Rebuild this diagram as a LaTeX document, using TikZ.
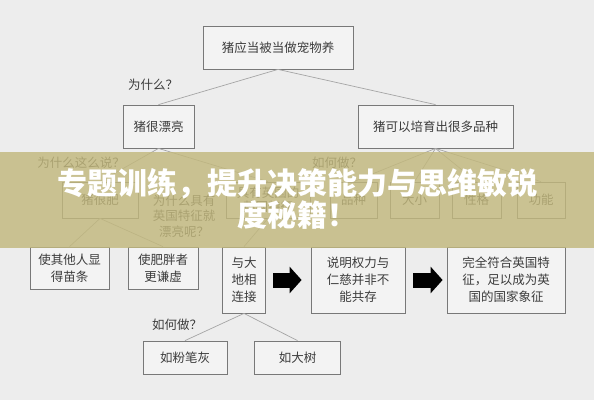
\documentclass[tikz,border=0pt]{standalone}
\usepackage{fontspec}
\newfontfamily\cjk{Noto Sans CJK SC}
\usetikzlibrary{arrows.meta, positioning}

\definecolor{bggray}{RGB}{237,237,237}
\definecolor{boxfill}{RGB}{243,243,243}
\definecolor{boxline}{RGB}{120,120,120}
\definecolor{edgegray}{RGB}{165,165,165}
\definecolor{txtgray}{RGB}{60,60,60}
\definecolor{bandolive}{RGB}{194,184,125}

\begin{document}
\begin{tikzpicture}[x=1pt, y=-1pt,
    every node/.style={font=\cjk\fontsize{12.5}{17}\selectfont, text=txtgray},
    box/.style={draw=boxline, fill=boxfill, line width=0.8pt, inner sep=0pt, align=center},
    qlab/.style={inner sep=1pt, align=center},
    edge/.style={draw=edgegray, line width=0.7pt},
    bigarrow/.style={-{Triangle[length=12pt, width=26pt]}, line width=15pt, black},
]

% ===== BACKGROUND =====
\fill[bggray] (0,0) rectangle (594,400);

% ===== TOP LEVELS =====
\node[box, minimum width=150, minimum height=43] (root) at (278,47.5) {猪应当被当做宠物养};
\node[box, minimum width=71, minimum height=43] (L-beauty) at (158.5,126.5) {猪很漂亮};
\node[box, minimum width=155, minimum height=43] (R-breed) at (435.5,126.5) {猪可以培育出很多品种};
\node[qlab] (q-why) at (153,85) {为什么？};

\draw[edge] (root.south) -- (L-beauty.north);
\draw[edge] (root.south) -- (R-breed.north);

% ===== SECOND LEVEL (under the band) =====
\node[qlab] (q-say) at (81,163) {为什么这么说？};
\node[box, minimum width=76, minimum height=36] (L-fat) at (100,200) {猪很肥};
\node[qlab, font=\cjk\fontsize{12.5}{15.5}\selectfont] (q-brit) at (184,216) {为什么具有\\英国特征就\\漂亮呢？};
\node[box, minimum width=84, minimum height=36, font=\cjk\fontsize{12.5}{14}\selectfont] (L-brit) at (268,200) {具有英国的\\英国特征};

\node[qlab] (q-how) at (337,163) {如何做？};
\node[box, minimum width=47, minimum height=36] (R-kind) at (353.5,200) {品种};
\node[box, minimum width=49, minimum height=36] (R-size) at (414.5,200) {大小};
\node[box, minimum width=49, minimum height=36] (R-temper) at (476.5,200) {性格};
\node[box, minimum width=48, minimum height=36] (R-func) at (541,200) {功能};

\draw[edge] (L-beauty.south) -- (L-fat.north);
\draw[edge] (L-beauty.south) -- (L-brit.north);
\foreach \n in {R-kind, R-size, R-temper, R-func}
    \draw[edge] (R-breed.south) -- (\n.north);

% ===== THIRD LEVEL =====
\node[box, minimum width=79, minimum height=42] (B-slim) at (69.5,268) {使其他人显\\得苗条};
\node[box, minimum width=70, minimum height=42] (B-humble) at (163,268) {使肥胖者\\更谦虚};
\node[box, minimum width=43, minimum height=66] (B-earth) at (244,280) {与大\\地相\\连接};
\node[box, minimum width=94, minimum height=66] (B-power) at (358,280) {说明权力与\\仁慈并非不\\能共存};
\node[box, minimum width=118, minimum height=66] (B-symbol) at (506,280) {完全符合英国特\\征，足以成为英\\国的国家象征};

\draw[edge] (L-fat.south) -- (B-slim.north);
\draw[edge] (L-fat.south) -- (B-humble.north);
\draw[edge] (L-brit.south) -- (B-earth.north);

% block arrows
\draw[bigarrow, shorten <=7.5pt, shorten >=9pt] (B-earth.east) -- (B-power.west);
\draw[bigarrow, shorten <=8pt, shorten >=4pt] (B-power.east) -- (B-symbol.west);

% ===== BOTTOM LEVEL =====
\node[qlab] (q-how2) at (177,325) {如何做？};
\node[box, minimum width=84, minimum height=33] (B-chalk) at (185,357.5) {如粉笔灰};
\node[box, minimum width=86, minimum height=33] (B-tree) at (297.5,357.5) {如大树};

\draw[edge] (B-earth.south) -- (B-chalk.north);
\draw[edge] (B-earth.south) -- (B-tree.north);

% ===== TITLE BAND =====
\fill[bandolive, opacity=0.82] (0,152) rectangle (594,248);
\node[align=center, text=white, font=\cjk\bfseries\fontsize{30}{32}\selectfont] (title) at (297,199)
    {专题训练，提升决策能力与思维敏锐\\度秘籍！};

\end{tikzpicture}
\end{document}
